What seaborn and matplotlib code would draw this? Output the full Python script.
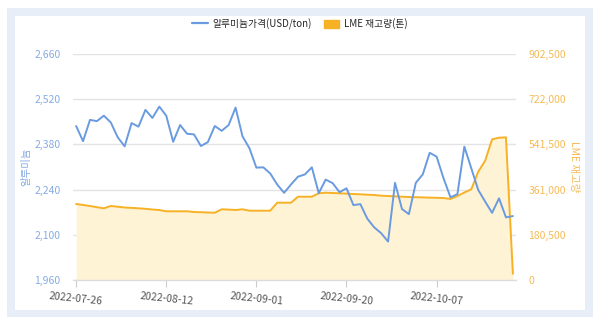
import matplotlib
matplotlib.use("Agg")
import matplotlib.pyplot as plt
import seaborn as sns
import pandas as pd
from matplotlib.lines import Line2D
from matplotlib.patches import Patch, Rectangle

price = [2437, 2390, 2456, 2452, 2469, 2448, 2402, 2374, 2446, 2435,
         2487, 2462, 2497, 2469, 2388, 2440, 2413, 2411, 2375, 2387,
         2437, 2422, 2440, 2494, 2405, 2368, 2308, 2309, 2290, 2256,
         2230, 2256, 2280, 2287, 2309, 2229, 2271, 2260, 2232, 2244,
         2192, 2195, 2150, 2123, 2105, 2079, 2261, 2180, 2164, 2261,
         2287, 2354, 2342, 2275, 2216, 2226, 2373, 2306, 2239, 2203,
         2168, 2213, 2154, 2158]
stock = [303500, 299500, 295500, 290700, 286300, 295500, 292700, 289500, 288000, 286300,
         284300, 281500, 279500, 274300, 274300, 274300, 274300, 271500, 270700, 269500,
         268700, 282300, 281100, 279500, 282300, 276700, 276700, 276700, 276700, 308700,
         308700, 308700, 332600, 332600, 332600, 346200, 348600, 347400, 346200, 345000,
         343400, 342200, 340600, 339400, 336600, 335400, 334000, 332600, 331400, 330600,
         329800, 329000, 328200, 327400, 323400, 335400, 349400, 362200, 432400, 476400,
         561800, 568200, 569800, 24800]
tick_pos = [0, 13, 26, 39, 52]
tick_labels = ["2022-07-26", "2022-08-12", "2022-09-01", "2022-09-20", "2022-10-07"]
left_ticks = [1960, 2100, 2240, 2380, 2520, 2660]
right_ticks = [0, 180500, 361000, 541500, 722000, 902500]

df = pd.DataFrame({"idx": range(len(price)), "price": price, "stock": stock})

sns.set_theme(style="white")
plt.rcParams["font.family"] = ["Noto Sans CJK KR", "DejaVu Sans"]

BLUE = "#6a9be0"
ORANGE = "#f7b125"
BLUE_TXT = "#86abe3"
ORANGE_TXT = "#f5bb55"

fig = plt.figure(figsize=(6.0, 3.24), dpi=100)
fig.patch.set_facecolor("white")
W, H = 600, 324
fig.patches.append(Rectangle((7 / W, 1 - 317 / H), 586 / W, 309 / H, transform=fig.transFigure,
                             facecolor="#e7eef8", edgecolor="none", zorder=-2))
fig.patches.append(Rectangle((15 / W, 1 - 310 / H), 570 / W, 294 / H, transform=fig.transFigure,
                             facecolor="white", edgecolor="none", zorder=-1))

ax1 = fig.add_axes([73 / W, 1 - 280 / H, 443 / W, 226 / H])
ax1.patch.set_alpha(0)
ax2 = ax1.twinx()
ax2.patch.set_alpha(0)

# inventory on the lower axes (right-hand scale)
sns.lineplot(data=df, x="idx", y="stock", ax=ax1, color=ORANGE, linewidth=1.4, zorder=3)
ax1.fill_between(df["idx"], df["stock"], 0, color="#fff3d6", zorder=2, linewidth=0)
ax1.set_ylim(0, 902500)
ax1.set_yticks(right_ticks)
ax1.yaxis.tick_right()
ax1.yaxis.set_label_position("right")
ax1.set_yticklabels([f"{v:,}" for v in right_ticks])
ax1.tick_params(axis="y", colors=ORANGE_TXT, labelsize=7.5, length=0, pad=9)
ax1.grid(axis="y", color="#e3e3e3", linewidth=1.0)
ax1.set_axisbelow(True)
ax1.set_ylabel("LME 재고량", color=ORANGE_TXT, fontsize=7.5, rotation=-90, labelpad=9)

# price on the upper axes (left-hand scale)
sns.lineplot(data=df, x="idx", y="price", ax=ax2, color=BLUE, linewidth=1.4, zorder=4)
ax2.set_ylim(1960, 2660)
ax2.set_yticks(left_ticks)
ax2.yaxis.tick_left()
ax2.yaxis.set_label_position("left")
ax2.set_yticklabels([f"{v:,}" for v in left_ticks])
ax2.tick_params(axis="y", colors=BLUE_TXT, labelsize=7.5, length=0, pad=9)
ax2.set_ylabel("알루미늄", color=BLUE_TXT, fontsize=7.5, labelpad=2)
ax2.set_xlabel("")

for ax in (ax1, ax2):
    ax.set_xlim(-0.45, 63.45)
    for s in ax.spines.values():
        s.set_visible(False)
ax1.spines["bottom"].set_visible(True)
ax1.spines["bottom"].set_color("#dcdcdc")
ax1.spines["bottom"].set_linewidth(1.0)

ax1.set_xticks(tick_pos)
ax1.set_xticklabels(tick_labels, rotation=-6, ha="center")
ax1.tick_params(axis="x", labelcolor="#555555", color="#cccccc", labelsize=7.5,
                length=5, width=0.8, direction="out", bottom=True, pad=3)
ax1.set_xlabel("")

handles = [Line2D([0], [0], color=BLUE, linewidth=1.6),
           Patch(facecolor=ORANGE, edgecolor=ORANGE)]
fig.legend(handles, ["알루미늄가격(USD/ton)", "LME 재고량(톤)"], loc="center",
           bbox_to_anchor=(0.5, 1 - 24 / H), ncol=2, frameon=False, fontsize=7,
           handlelength=1.6, handleheight=0.9, columnspacing=1.2, handletextpad=0.5)

fig.savefig("out.png", dpi=100)
